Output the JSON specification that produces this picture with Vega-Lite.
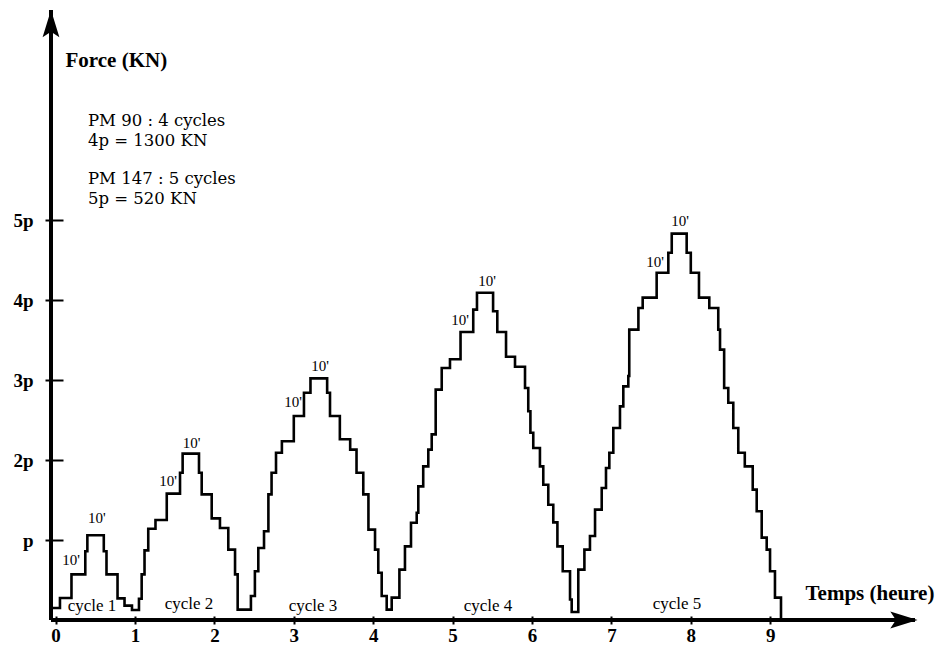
{
  "$schema": "https://vega.github.io/schema/vega-lite/v6.json",
  "width": 864,
  "height": 610,
  "autosize": {"type": "none"},
  "padding": {"left": 51, "top": 10, "right": 31, "bottom": 28},
  "background": "white",
  "config": {"view": {"stroke": null}, "font": "Liberation Serif"},
  "datasets": {
    "steps": [
      {"t": -0.058, "F": 0.15}, {"t": 0.055, "F": 0.275}, {"t": 0.2, "F": 0.57}, {"t": 0.374, "F": 0.86}, {"t": 0.4, "F": 1.06},
      {"t": 0.607, "F": 0.86}, {"t": 0.641, "F": 0.57}, {"t": 0.78, "F": 0.27}, {"t": 0.868, "F": 0.18}, {"t": 0.962, "F": 0.125},
      {"t": 1.05, "F": 0.265}, {"t": 1.084, "F": 0.57}, {"t": 1.12, "F": 0.87}, {"t": 1.167, "F": 1.14}, {"t": 1.258, "F": 1.25},
      {"t": 1.4, "F": 1.58}, {"t": 1.567, "F": 1.84}, {"t": 1.6, "F": 2.08}, {"t": 1.806, "F": 1.84}, {"t": 1.84, "F": 1.57},
      {"t": 1.966, "F": 1.27}, {"t": 2.07, "F": 1.15}, {"t": 2.175, "F": 0.88}, {"t": 2.26, "F": 0.57}, {"t": 2.293, "F": 0.13},
      {"t": 2.46, "F": 0.3}, {"t": 2.51, "F": 0.61}, {"t": 2.553, "F": 0.9}, {"t": 2.625, "F": 1.11}, {"t": 2.68, "F": 1.57},
      {"t": 2.72, "F": 1.84}, {"t": 2.776, "F": 2.09}, {"t": 2.85, "F": 2.235}, {"t": 3.0, "F": 2.55}, {"t": 3.128, "F": 2.84},
      {"t": 3.21, "F": 3.02}, {"t": 3.42, "F": 2.84}, {"t": 3.456, "F": 2.55}, {"t": 3.58, "F": 2.26}, {"t": 3.71, "F": 2.13},
      {"t": 3.79, "F": 1.84}, {"t": 3.875, "F": 1.57}, {"t": 3.94, "F": 1.13}, {"t": 4.023, "F": 0.88}, {"t": 4.064, "F": 0.59},
      {"t": 4.107, "F": 0.3}, {"t": 4.17, "F": 0.13},
      {"t": 4.233, "F": 0.28}, {"t": 4.33, "F": 0.63}, {"t": 4.4, "F": 0.92}, {"t": 4.476, "F": 1.215}, {"t": 4.548, "F": 1.34},
      {"t": 4.568, "F": 1.67}, {"t": 4.63, "F": 1.92}, {"t": 4.694, "F": 2.13}, {"t": 4.737, "F": 2.32}, {"t": 4.787, "F": 2.88},
      {"t": 4.863, "F": 3.15}, {"t": 4.967, "F": 3.26}, {"t": 5.1, "F": 3.6}, {"t": 5.26, "F": 3.88}, {"t": 5.307, "F": 4.09},
      {"t": 5.51, "F": 3.86}, {"t": 5.563, "F": 3.6}, {"t": 5.673, "F": 3.29}, {"t": 5.786, "F": 3.165}, {"t": 5.912, "F": 2.9},
      {"t": 5.953, "F": 2.61}, {"t": 5.98, "F": 2.34}, {"t": 6.016, "F": 2.15}, {"t": 6.1, "F": 1.92}, {"t": 6.142, "F": 1.69},
      {"t": 6.205, "F": 1.44}, {"t": 6.268, "F": 1.22}, {"t": 6.32, "F": 0.92}, {"t": 6.387, "F": 0.61}, {"t": 6.479, "F": 0.256},
      {"t": 6.5, "F": 0.1},
      {"t": 6.583, "F": 0.63}, {"t": 6.66, "F": 0.88}, {"t": 6.73, "F": 1.05}, {"t": 6.794, "F": 1.38}, {"t": 6.878, "F": 1.65},
      {"t": 6.932, "F": 1.9}, {"t": 6.974, "F": 2.09}, {"t": 7.024, "F": 2.4}, {"t": 7.108, "F": 2.67}, {"t": 7.15, "F": 2.92},
      {"t": 7.213, "F": 3.05}, {"t": 7.225, "F": 3.63}, {"t": 7.34, "F": 3.9}, {"t": 7.394, "F": 4.03}, {"t": 7.57, "F": 4.34},
      {"t": 7.717, "F": 4.59}, {"t": 7.76, "F": 4.83}, {"t": 7.948, "F": 4.59}, {"t": 8.0, "F": 4.34}, {"t": 8.103, "F": 4.03},
      {"t": 8.233, "F": 3.9}, {"t": 8.346, "F": 3.63}, {"t": 8.368, "F": 3.38}, {"t": 8.42, "F": 2.9}, {"t": 8.472, "F": 2.715},
      {"t": 8.535, "F": 2.4}, {"t": 8.598, "F": 2.09}, {"t": 8.68, "F": 1.92}, {"t": 8.78, "F": 1.63}, {"t": 8.83, "F": 1.36},
      {"t": 8.893, "F": 1.03}, {"t": 8.956, "F": 0.88}, {"t": 8.998, "F": 0.61}, {"t": 9.06, "F": 0.28}, {"t": 9.136, "F": 0.0}
    ],
    "tenmin": [
      {"t": 0.52, "F": 1.27, "label": "10'"}, {"t": 0.194, "F": 0.756, "label": "10'"},
      {"t": 1.714, "F": 2.21, "label": "10'"}, {"t": 1.416, "F": 1.735, "label": "10'"},
      {"t": 3.33, "F": 3.17, "label": "10'"}, {"t": 2.99, "F": 2.72, "label": "10'"},
      {"t": 5.433, "F": 4.235, "label": "10'"}, {"t": 5.093, "F": 3.756, "label": "10'"},
      {"t": 7.864, "F": 4.99, "label": "10'"}, {"t": 7.55, "F": 4.47, "label": "10'"}
    ],
    "cycles": [
      {"t": 0.458, "F": 0.18, "label": "cycle 1"},
      {"t": 1.68, "F": 0.2, "label": "cycle 2"},
      {"t": 3.242, "F": 0.18, "label": "cycle 3"},
      {"t": 5.446, "F": 0.18, "label": "cycle 4"},
      {"t": 7.826, "F": 0.2, "label": "cycle 5"}
    ],
    "notes": [
      {"t": 0.408, "F": 6.2375, "label": "PM 90 :  4 cycles"},
      {"t": 0.408, "F": 5.9875, "label": "4p = 1300 KN"},
      {"t": 0.408, "F": 5.5125, "label": "PM 147 : 5 cycles"},
      {"t": 0.408, "F": 5.2625, "label": "5p = 520 KN"}
    ],
    "yarrow": [{"t": -0.058, "F": 7.45}],
    "xarrow": [{"t": 10.68, "F": 0.0}]
  },
  "encoding": {
    "x": {"field": "t", "type": "quantitative", "scale": {"domain": [-0.0579, 10.8237], "nice": false, "zero": false}},
    "y": {"field": "F", "type": "quantitative", "scale": {"domain": [0, 7.625], "nice": false, "zero": false}}
  },
  "layer": [
    {
      "data": {"name": "steps"},
      "mark": {"type": "line", "interpolate": "step-after", "color": "black", "strokeWidth": 2.6, "strokeJoin": "miter", "strokeCap": "square"},
      "encoding": {
        "x": {"field": "t", "type": "quantitative",
          "axis": {"values": [0,1,2,3,4,5,6,7,8,9], "format": "d", "domain": false, "grid": false, "offset": -4, "tickSize": 8, "tickWidth": 2, "tickColor": "black",
            "labelFont": "Liberation Serif", "labelFontWeight": "bold", "labelFontSize": 19, "labelColor": "black", "labelPadding": 2, "labelFlush": false,
            "title": "Temps (heure)", "titleX": 754, "titleY": -23, "titleAlign": "left", "titleBaseline": "middle", "titleAngle": 0,
            "titleFont": "Liberation Serif", "titleFontSize": 21, "titleFontWeight": "bold", "titleColor": "black"}},
        "y": {"field": "F", "type": "quantitative",
          "axis": {"values": [1,2,3,4,5], "labelExpr": "datum.value == 1 ? 'p' : datum.value + 'p'", "domain": false, "grid": false, "offset": -12, "tickSize": 18, "tickWidth": 2, "tickColor": "black",
            "labelFont": "Liberation Serif", "labelFontWeight": "bold", "labelFontSize": 19, "labelColor": "black", "labelPadding": 12,
            "title": "Force (KN)", "titleX": 2, "titleY": 50, "titleAlign": "left", "titleBaseline": "middle", "titleAngle": 0,
            "titleFont": "Liberation Serif", "titleFontSize": 21, "titleFontWeight": "bold", "titleColor": "black"}}
      }
    },
    {
      "data": {"name": "steps"},
      "mark": {"type": "rule", "color": "black", "strokeWidth": 2.5},
      "encoding": {"x": {"datum": -0.0579, "type": "quantitative"}, "y": null}
    },
    {
      "data": {"name": "steps"},
      "mark": {"type": "rule", "color": "black", "strokeWidth": 2.5},
      "encoding": {"y": {"datum": 0, "type": "quantitative"}, "x": null}
    },
    {
      "data": {"name": "tenmin"},
      "mark": {"type": "text", "font": "Liberation Serif", "fontSize": 15, "color": "black", "align": "center", "baseline": "middle"},
      "encoding": {"text": {"field": "label"}}
    },
    {
      "data": {"name": "cycles"},
      "mark": {"type": "text", "font": "Liberation Serif", "fontSize": 17, "color": "black", "align": "center", "baseline": "middle"},
      "encoding": {"text": {"field": "label"}}
    },
    {
      "data": {"name": "notes"},
      "mark": {"type": "text", "font": "DejaVu Serif", "fontSize": 16.5, "color": "black", "align": "left", "baseline": "middle"},
      "encoding": {"text": {"field": "label"}}
    },
    {
      "data": {"name": "yarrow"},
      "mark": {"type": "point", "shape": "M0,-1L0.6,0.95L0,0.55L-0.6,0.95Z", "filled": true, "color": "black", "opacity": 1, "size": 784, "angle": 0}
    },
    {
      "data": {"name": "xarrow"},
      "mark": {"type": "point", "shape": "M0,-1L0.6,0.95L0,0.55L-0.6,0.95Z", "filled": true, "color": "black", "opacity": 1, "size": 784, "angle": 90}
    }
  ]
}
